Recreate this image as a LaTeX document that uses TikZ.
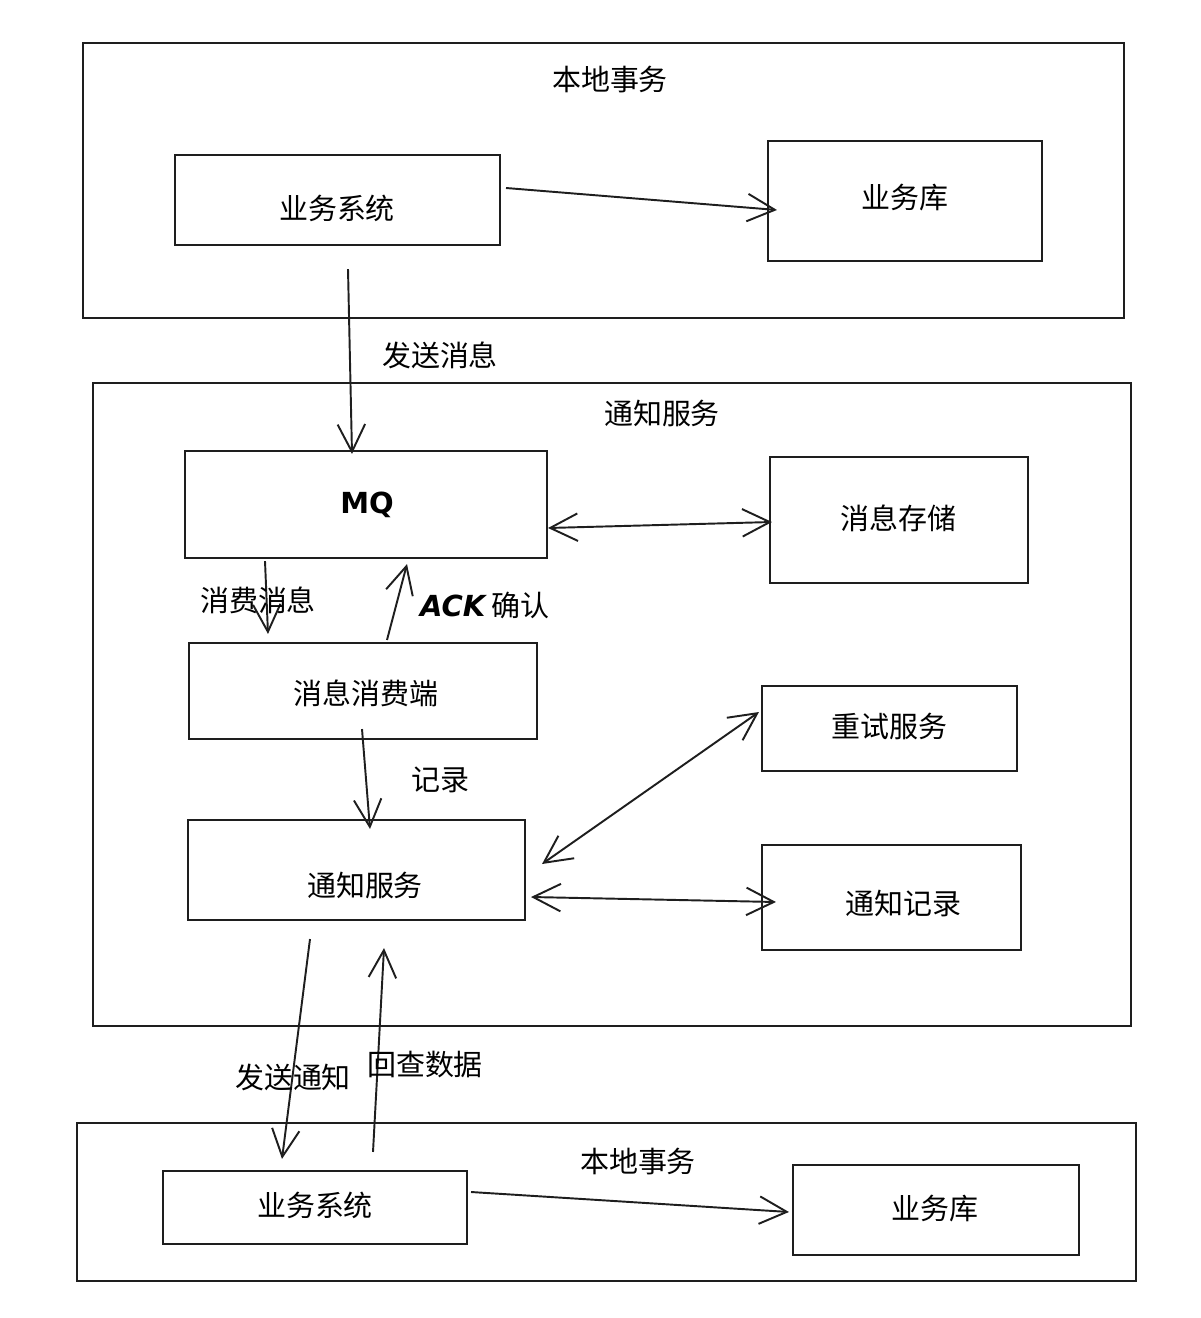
\documentclass[tikz,border=0pt]{standalone}
\usepackage{fontspec}
\setmainfont{Noto Sans CJK SC}
\newfontfamily\handfont{DejaVu Sans}
\usepackage{tikz}
\usetikzlibrary{arrows.meta,positioning}
\usepackage{xcolor}
\definecolor{skline}{RGB}{30,30,30}
\tikzstyle{arrow} = [line width=1.1pt,->,>={Straight Barb[length=5.5mm,width=5.5mm]},color=skline]
\tikzstyle{biarrow} = [arrow,<->]
\tikzstyle{frame} = [rectangle, draw=skline, line width=1.2pt, inner sep=0pt]
\tikzstyle{box} = [rectangle, draw=skline, line width=1.2pt, inner sep=0pt, text centered]
\tikzstyle{lbl} = [font=\fontsize{16.5}{20}\selectfont, inner sep=0pt]

\begin{document}
\begin{tikzpicture}[x=0.02cm, y=-0.02cm, lbl]
\useasboundingbox (0,0) rectangle (1200,1318);
% upper local transaction
\node (local1) [frame, minimum width=20.82cm, minimum height=5.5cm] at (603.5,180.5) {};
\node (local1lbl) at (610,80) {本地事务};
\node (bizsys) [box, minimum width=6.5cm, minimum height=1.8cm] at (337.5,200) {};
\node (bizsyslbl) at (337,208) {业务系统};
\node (bizdb) [box, minimum width=5.48cm, minimum height=2.4cm] at (905,201) {};
\node (bizdblbl) at (905,198) {业务库};

% notification service
\node (svc) [frame, minimum width=20.76cm, minimum height=12.86cm] at (612,704.5) {};
\node (svclbl) at (662,413) {通知服务};
\node (mq) [box, minimum width=7.24cm, minimum height=2.14cm] at (366,504.5) {};
\node (mqlbl) at (367,505) {\handfont\bfseries MQ};
\node (msgstore) [box, minimum width=5.16cm, minimum height=2.52cm] at (899,520) {};
\node (msgstorelbl) at (898,518) {消息存储};
\node (consumer) [box, minimum width=6.96cm, minimum height=1.92cm] at (363,691) {};
\node (consumerlbl) at (366,693) {消息消费端};
\node (retry) [box, minimum width=5.1cm, minimum height=1.7cm] at (889.5,728.5) {};
\node (retrylbl) at (889,726) {重试服务};
\node (notify) [box, minimum width=6.74cm, minimum height=2.0cm] at (356.5,870) {};
\node (notifylbl) at (365,885) {通知服务};
\node (notifylog) [box, minimum width=5.18cm, minimum height=2.1cm] at (891.5,897.5) {};
\node (notifyloglbl) at (903,903) {通知记录};

% lower local transaction
\node (local2) [frame, minimum width=21.18cm, minimum height=3.16cm] at (606.5,1202) {};
\node (local2lbl) at (638,1161) {本地事务};
\node (bizsys2) [box, minimum width=6.08cm, minimum height=1.46cm] at (315,1207.5) {};
\node (bizsys2lbl) at (315,1205) {业务系统};
\node (bizdb2) [box, minimum width=5.72cm, minimum height=1.8cm] at (936,1210) {};
\node (bizdb2lbl) at (935,1209) {业务库};

% connectors
\draw[arrow] ([shift={(5,-12)}]bizsys.east) -- ([shift={(10,9)}]bizdb.west);
\draw[arrow] ([shift={(10.5,23)}]bizsys.south) -- ([shift={(-14,4)}]mq.north);
\node (sendlbl) at (440,355) {发送消息};
\draw[biarrow] ([shift={(0,23.5)}]mq.east) -- ([shift={(3,2)}]msgstore.west);
\draw[arrow] ([shift={(-101,2)}]mq.south) -- ([shift={(-95,-8)}]consumer.north);
\node (consumelbl) at (258,600) {消费消息};
\draw[arrow] ([shift={(24,-2)}]consumer.north) -- ([shift={(41,5)}]mq.south);
\node (acklbl) at (485,605) {{\handfont\bfseries\itshape ACK}\ 确认};
\draw[arrow] ([shift={(-1,-11)}]consumer.south) -- ([shift={(13.5,10)}]notify.north);
\node (reclbl) at (440,780) {记录};
\draw[biarrow] ([shift={(16,-6)}]notify.east) -- ([shift={(-2,-16.5)}]retry.west);
\draw[biarrow] ([shift={(5,27)}]notify.east) -- ([shift={(15,4.5)}]notifylog.west);
\draw[arrow] ([shift={(-46.5,18)}]notify.south) -- ([shift={(-33,-11)}]bizsys2.north);
\node (notelbl) at (293,1077) {发送通知};
\draw[arrow] ([shift={(58,-18)}]bizsys2.north) -- ([shift={(27.5,27)}]notify.south);
\node (querylbl) at (425,1065) {回查数据};
\draw[arrow] ([shift={(3,-15.5)}]bizsys2.east) -- ([shift={(-3,2)}]bizdb2.west);
\end{tikzpicture}
\end{document}
